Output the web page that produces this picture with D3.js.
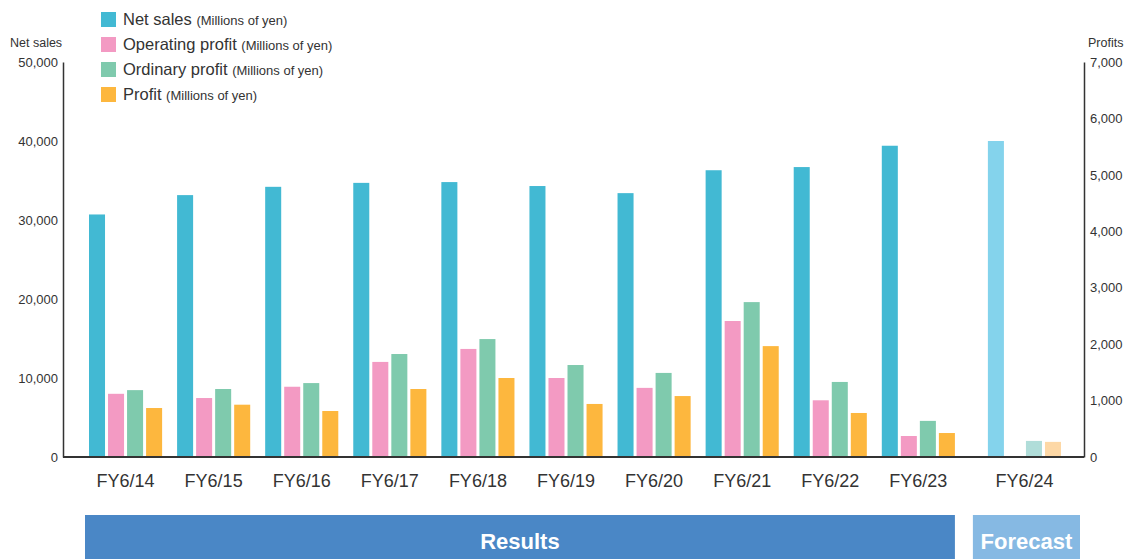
<!DOCTYPE html>
<html>
<head>
<meta charset="utf-8">
<script src="https://cdn.jsdelivr.net/npm/d3@7"></script>
<style>
  html, body { margin: 0; padding: 0; background: #fff; }
  svg { display: block; font-family: "Liberation Sans", Arial, sans-serif; }
</style>
</head>
<body>
<svg id="chart" width="1127" height="559"></svg>
<script>
// Fiscal years (the last one is a forecast)
const categories = ["FY6/14", "FY6/15", "FY6/16", "FY6/17", "FY6/18", "FY6/19", "FY6/20", "FY6/21", "FY6/22", "FY6/23", "FY6/24"];
const forecastYears = ["FY6/24"];

// Millions of yen
const netSales        = [30700, 33150, 34200, 34700, 34800, 34300, 33400, 36300, 36700, 39400, 40000];
const operatingProfit = [1120, 1045, 1245, 1685, 1915, 1400, 1225, 2410, 1005, 372, null];
const ordinaryProfit  = [1185, 1205, 1310, 1825, 2090, 1630, 1490, 2745, 1330, 640, 285];
const profit          = [868, 927, 815, 1205, 1400, 940, 1080, 1965, 780, 425, 268];

const salesTicks  = [0, 10000, 20000, 30000, 40000, 50000];
const profitTicks = [0, 1000, 2000, 3000, 4000, 5000, 6000, 7000];

const seriesNames = ["Net sales", "Operating profit", "Ordinary profit", "Profit"];
const unitNote = "(Millions of yen)";
const colors         = ["#42b9d3", "#f39ac3", "#7fcaad", "#fdb73e"];
const forecastColors = ["#84d3ec", "#f8c6dc", "#b0ddd9", "#fdd8a6"];

const svg = d3.select("#chart");
const plotLeft = 63, plotRight = 1084, plotTop = 62, plotBottom = 457;

const ySales  = d3.scaleLinear().domain([0, 50000]).range([plotBottom, plotTop]);
const yProfit = d3.scaleLinear().domain([0, 7000]).range([plotBottom, plotTop]);

const x = d3.scaleBand().domain(categories).range([89, 1043]).paddingInner(0.17).paddingOuter(0);
const forecastShift = 18;
const groupX = c => x(c) + (forecastYears.includes(c) ? forecastShift : 0);
const xInner = d3.scaleBand().domain(seriesNames).range([0, x.bandwidth()]).paddingInner(0.158);

// Bars
const series = [
  { name: seriesNames[0], values: netSales, y: ySales },
  { name: seriesNames[1], values: operatingProfit, y: yProfit },
  { name: seriesNames[2], values: ordinaryProfit, y: yProfit },
  { name: seriesNames[3], values: profit, y: yProfit }
];

const bars = [];
series.forEach((s, si) => {
  categories.forEach((c, ci) => {
    const v = s.values[ci];
    if (v == null) return;
    bars.push({ c, v, si, s });
  });
});

svg.append("g").selectAll("rect").data(bars).join("rect")
  .attr("x", d => groupX(d.c) + xInner(d.s.name))
  .attr("width", xInner.bandwidth())
  .attr("y", d => d.s.y(d.v))
  .attr("height", d => plotBottom - d.s.y(d.v))
  .attr("fill", d => forecastYears.includes(d.c) ? forecastColors[d.si] : colors[d.si]);

// Axes
const axisColor = "#333";
const leftAxis = d3.axisLeft(ySales).tickValues(salesTicks).tickSize(0).tickPadding(5)
  .tickFormat(d3.format(","));
const rightAxis = d3.axisRight(yProfit).tickValues(profitTicks).tickSize(0).tickPadding(6)
  .tickFormat(d3.format(","));

const gl = svg.append("g").attr("transform", `translate(${plotLeft},0)`).call(leftAxis);
const gr = svg.append("g").attr("transform", `translate(${plotRight},0)`).call(rightAxis);
[gl, gr].forEach(g => {
  g.select(".domain").attr("stroke", axisColor).attr("stroke-width", 1.5);
  g.selectAll("text").attr("font-size", 13).attr("fill", "#333")
    .attr("font-family", "'Liberation Sans', Arial, sans-serif");
});

// Baseline
svg.append("line")
  .attr("x1", plotLeft).attr("x2", plotRight)
  .attr("y1", plotBottom).attr("y2", plotBottom)
  .attr("stroke", axisColor).attr("stroke-width", 2);

// Axis titles
svg.append("text").attr("x", 10).attr("y", 47).attr("font-size", 12.5).attr("fill", "#333").text("Net sales");
svg.append("text").attr("x", 1088).attr("y", 47).attr("font-size", 12.5).attr("fill", "#333").text("Profits");

// Category labels
svg.append("g").selectAll("text").data(categories).join("text")
  .attr("x", c => groupX(c) + x.bandwidth() / 2)
  .attr("y", 487)
  .attr("text-anchor", "middle")
  .attr("font-size", 18)
  .attr("fill", "#333")
  .text(c => c);

// Legend
const legend = svg.append("g");
seriesNames.forEach((n, i) => {
  const yy = 12 + i * 25;
  legend.append("rect").attr("x", 101).attr("y", yy).attr("width", 15).attr("height", 15).attr("fill", colors[i]);
  const t = legend.append("text").attr("x", 123).attr("y", yy + 13).attr("fill", "#333");
  t.append("tspan").attr("font-size", 16.5).text(n + " ");
  t.append("tspan").attr("font-size", 13).text(unitNote);
});

// Results / Forecast banners
const results = categories.filter(c => !forecastYears.includes(c));
const resLeft = groupX(results[0]) - 4;
const resRight = groupX(results[results.length - 1]) + x.bandwidth();
const fc = forecastYears[0];
const fcLeft = groupX(fc) - 15;
const fcRight = groupX(fc) + x.bandwidth() + 19;

svg.append("rect").attr("x", resLeft).attr("y", 515).attr("width", resRight - resLeft).attr("height", 44).attr("fill", "#4a87c6");
svg.append("rect").attr("x", fcLeft).attr("y", 515).attr("width", fcRight - fcLeft).attr("height", 44).attr("fill", "#86b9e3");

svg.append("text").attr("x", (resLeft + resRight) / 2).attr("y", 549)
  .attr("text-anchor", "middle").attr("font-size", 22).attr("font-weight", "bold").attr("fill", "#fff").text("Results");
svg.append("text").attr("x", (fcLeft + fcRight) / 2).attr("y", 549)
  .attr("text-anchor", "middle").attr("font-size", 22).attr("font-weight", "bold").attr("fill", "#fff").text("Forecast");
</script>
</body>
</html>
